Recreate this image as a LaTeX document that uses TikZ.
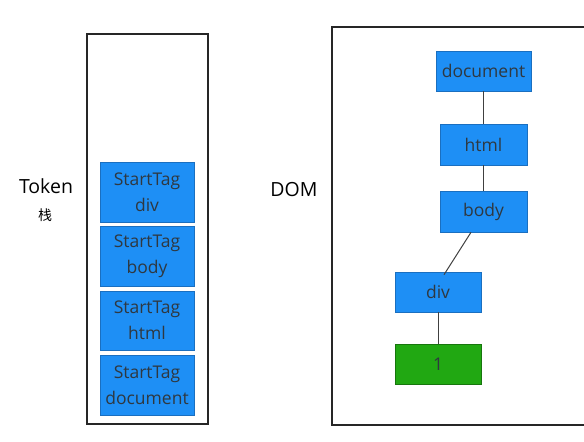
\documentclass[tikz,border=0pt]{standalone}
\usepackage{fontspec}
\setmainfont{Open Sans}
\newfontfamily\cjk{Noto Sans CJK SC}
\definecolor{boxblue}{HTML}{1E8FF5}
\definecolor{boxedge}{HTML}{1A6FC0}
\definecolor{boxgreen}{HTML}{21A812}
\definecolor{txt}{HTML}{2F3840}
\begin{document}
\begin{tikzpicture}[x=1pt,y=-1pt,
  frame/.style={draw=black!85,line width=1.3pt},
  bbox/.style={draw=boxedge,fill=boxblue,line width=0.6pt,text=txt,font=\fontsize{17.5}{26}\selectfont,align=center,inner sep=0pt},
  gbox/.style={bbox,fill=boxgreen,draw=boxgreen!70!black},
  lbl/.style={font=\fontsize{19.5}{22}\selectfont,text=black,inner sep=0pt},
  link/.style={draw=black!75,line width=1pt}]
\useasboundingbox (0,0) rectangle (584,442);
% frames
\draw[frame] (87,34) rectangle (208,424);
\draw[frame] (587,27) -- (332,27) -- (332,425) -- (587,425);
% labels
\node[lbl] (token) at (46,186) {Token};
\node[lbl,font=\cjk\fontsize{14}{16}\selectfont] (zhan) at (45,215) {栈};
\node[lbl] (dom) at (294,190) {DOM};
% stack
\node[bbox,minimum width=94pt,minimum height=60pt] (s1) at (147,192) {StartTag\\div};
\node[bbox,minimum width=94pt,minimum height=60pt] (s2) at (147,256) {StartTag\\body};
\node[bbox,minimum width=94pt,minimum height=59pt] (s3) at (147,320.5) {StartTag\\html};
\node[bbox,minimum width=94pt,minimum height=60pt] (s4) at (147,385) {StartTag\\document};
% DOM tree
\node[bbox,minimum width=95pt,minimum height=40pt] (doc) at (483.5,71) {document};
\node[bbox,minimum width=87pt,minimum height=41pt] (html) at (483.5,144.5) {html};
\node[bbox,minimum width=87pt,minimum height=41pt] (body) at (483.5,211.5) {body};
\node[bbox,minimum width=86pt,minimum height=40pt] (div) at (438,292) {div};
\node[gbox,minimum width=86pt,minimum height=40pt] (one) at (438,364) {1};
\draw[link] (doc) -- (html);
\draw[link] (html) -- (body);
\draw[link] ([xshift=-12.5pt]body.south) -- ([xshift=6pt,yshift=-3pt]div.north);
\draw[link] (div) -- (one);
\end{tikzpicture}
\end{document}
